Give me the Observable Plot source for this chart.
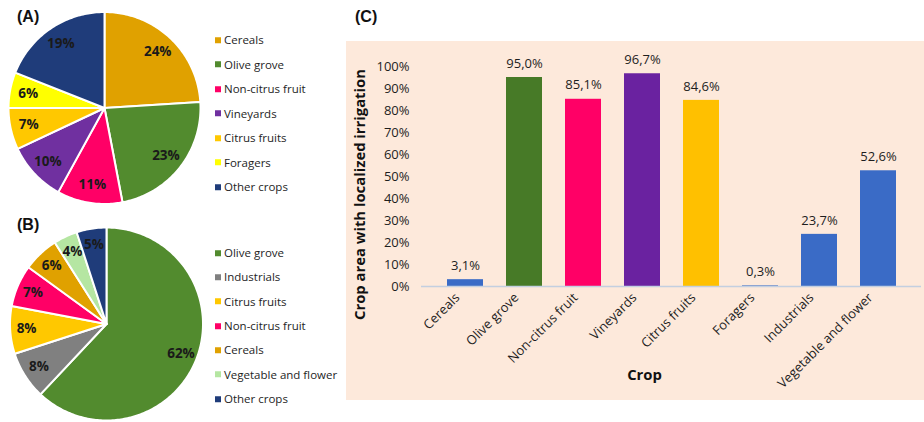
<!DOCTYPE html>
<html>
<head>
<meta charset="utf-8">
<script src="https://cdn.jsdelivr.net/npm/d3@7"></script>
<script src="https://cdn.jsdelivr.net/npm/@observablehq/plot@0.6"></script>
<style>
  body { margin: 0; background: #fff; }
  #fig { position: relative; width: 924px; height: 422px; overflow: hidden; font-family: "Open Sans", sans-serif; color: #1e1e1e; }
  .abs { position: absolute; }
  .panel-label { font-family: "Liberation Sans", Arial, sans-serif; font-weight: bold; font-size: 16px; color: #111; line-height: 1; }
  .leg-row { position: absolute; display: flex; align-items: center; font-size: 11.5px; line-height: 1; white-space: nowrap; transform: translateY(-50%); }
  .leg-sw { width: 6px; height: 6px; margin-right: 3px; }
  #panelC { position: absolute; left: 346px; top: 41px; width: 578px; height: 359px; background: #fde9db; }
</style>
</head>
<body>
<div id="fig"></div>
<script>
// ---------- data ----------
const pieALabels = ["Cereals", "Olive grove", "Non-citrus fruit", "Vineyards", "Citrus fruits", "Foragers", "Other crops"];
const pieAValues = [24, 23, 11, 10, 7, 6, 19];
const pieBLabels = ["Olive grove", "Industrials", "Citrus fruits", "Non-citrus fruit", "Cereals", "Vegetable and flower", "Other crops"];
const pieBValues = [62, 8, 8, 7, 6, 4, 5];
const barCrops = ["Cereals", "Olive grove", "Non-citrus fruit", "Vineyards", "Citrus fruits", "Foragers", "Industrials", "Vegetable and flower"];
const barValues = [3.1, 95.0, 85.1, 96.7, 84.6, 0.3, 23.7, 52.6];
const yTicks = [0, 10, 20, 30, 40, 50, 60, 70, 80, 90, 100];

// ---------- styles ----------
const pieColors = {
  "Cereals": "#e0a100",
  "Olive grove": "#528b2e",
  "Non-citrus fruit": "#ff0066",
  "Vineyards": "#7030a0",
  "Citrus fruits": "#ffc800",
  "Foragers": "#ffff00",
  "Other crops": "#1f3c7a",
  "Industrials": "#808080",
  "Vegetable and flower": "#b5e6a2"
};
const barColors = {
  "Cereals": "#3a6bc6",
  "Olive grove": "#477a27",
  "Non-citrus fruit": "#ff0066",
  "Vineyards": "#6a22a0",
  "Citrus fruits": "#ffc000",
  "Foragers": "#3a6bc6",
  "Industrials": "#3a6bc6",
  "Vegetable and flower": "#3a6bc6"
};
const FONT = "Open Sans, sans-serif";
const fig = document.getElementById("fig");

function el(tag, cls, css, text) {
  const e = document.createElement(tag);
  if (cls) e.className = cls;
  Object.assign(e.style, css || {});
  if (text != null) e.textContent = text;
  fig.appendChild(e);
  return e;
}

// ---------- pies ----------
function pieChart(labels, values, box, labelR) {
  const arcs = d3.pie().sort(null).value(d => d)(values);
  const pts = [];
  const lbl = [];
  arcs.forEach((a, i) => {
    const crop = labels[i];
    pts.push({crop, x: 0, y: 0});
    const n = Math.max(2, Math.ceil((a.endAngle - a.startAngle) / (Math.PI / 180)));
    for (let k = 0; k <= n; k++) {
      const t = a.startAngle + (a.endAngle - a.startAngle) * k / n;
      pts.push({crop, x: Math.sin(t), y: Math.cos(t)});
    }
    pts.push({crop, x: 0, y: 0});
    const mid = (a.startAngle + a.endAngle) / 2;
    lbl.push({crop, x: labelR * Math.sin(mid), y: labelR * Math.cos(mid), text: values[i] + "%"});
  });
  return Plot.plot({
    width: box.w, height: box.h,
    style: {background: "transparent", fontFamily: FONT, overflow: "visible"},
    x: {domain: [-1, 1], range: [box.cx - box.r, box.cx + box.r], axis: null},
    y: {domain: [-1, 1], range: [box.cy + box.r, box.cy - box.r], axis: null},
    color: {domain: labels, range: labels.map(l => pieColors[l])},
    marks: [
      Plot.line(pts, {x: "x", y: "y", z: "crop", fill: "crop", stroke: "#fff", strokeWidth: 2, strokeLinejoin: "round"}),
      Plot.text(lbl, {x: "x", y: "y", text: "text", fontSize: 13.5, fontWeight: "bold", fill: "#1a1a1a"})
    ]
  });
}

const pieA = pieChart(pieALabels, pieAValues, {w: 212, h: 210, cx: 104, cy: 107.5, r: 96}, 0.81);
pieA.style.position = "absolute"; pieA.style.left = "0px"; pieA.style.top = "0px";
fig.appendChild(pieA);
const pieB = pieChart(pieBLabels, pieBValues, {w: 212, h: 212, cx: 106, cy: 113.5, r: 96.5}, 0.83);
pieB.style.position = "absolute"; pieB.style.left = "0px"; pieB.style.top = "210px";
fig.appendChild(pieB);

// legends
function legend(labels, x, y0, step) {
  labels.forEach((l, i) => {
    const row = el("div", "leg-row", {left: x + "px", top: (y0 + i * step) + "px"});
    const sw = document.createElement("span");
    sw.className = "leg-sw";
    sw.style.background = pieColors[l];
    row.appendChild(sw);
    const t = document.createElement("span");
    t.textContent = l;
    row.appendChild(t);
  });
}
legend(pieALabels, 215, 40, 24.5);
legend(pieBLabels, 215, 253, 24.3);

el("div", "abs panel-label", {left: "17px", top: "9px"}, "(A)");
el("div", "abs panel-label", {left: "17px", top: "217px"}, "(B)");
el("div", "abs panel-label", {left: "355px", top: "9px"}, "(C)");

// ---------- bar chart ----------
const panelC = el("div", null, {}, null);
panelC.id = "panelC";
const bars = barCrops.map((c, i) => ({crop: c, value: barValues[i]}));
const fmt = v => v.toFixed(1).replace(".", ",") + "%";

const barPlot = Plot.plot({
  width: 578, height: 359,
  marginLeft: 75, marginRight: 3, marginTop: 25, marginBottom: 114,
  style: {background: "transparent", fontFamily: FONT, fontSize: "13px", color: "#1e1e1e", overflow: "visible"},
  x: {domain: barCrops, padding: 0.39, label: null},
  y: {domain: [0, 100], label: null},
  color: {domain: barCrops, range: barCrops.map(c => barColors[c])},
  marks: [
    Plot.barY(bars, {x: "crop", y: "value", fill: "crop"}),
    Plot.ruleY([0], {stroke: "#c3cfe0", strokeWidth: 1.5}),
    Plot.text(bars, {x: "crop", y: "value", text: d => fmt(d.value), dy: -14, fontSize: 13, fill: "#1e1e1e"}),
    Plot.axisY({ticks: yTicks, tickFormat: d => d + "%", tickSize: 0, tickPadding: 12, label: null, fontSize: 13}),
    Plot.axisX({tickRotate: -45, tickSize: 0, tickPadding: 7, dx: -8, dy: 2, label: null, fontSize: 13}),
    Plot.text(["Crop area with localized irrigation"], {frameAnchor: "left", textAnchor: "middle", lineAnchor: "middle", rotate: -90, dx: -61, dy: 18, fontWeight: "bold", fontSize: 14.8, fill: "#111"}),
    Plot.text(["Crop"], {frameAnchor: "bottom", textAnchor: "middle", lineAnchor: "middle", dx: -27, dy: 89, fontWeight: "bold", fontSize: 14.8, fill: "#111"})
  ]
});
panelC.appendChild(barPlot);
</script>
</body>
</html>
